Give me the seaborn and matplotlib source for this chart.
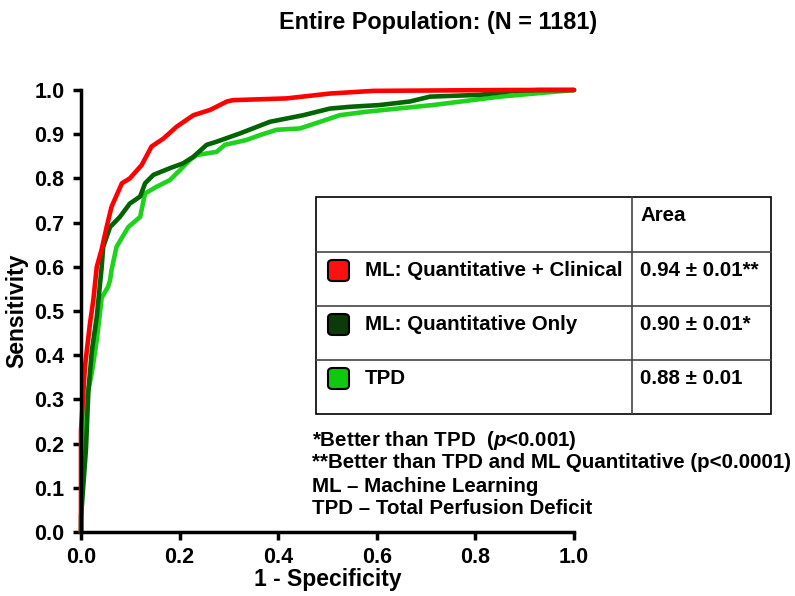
import numpy as np
import pandas as pd
import matplotlib
matplotlib.use("Agg")
import matplotlib.pyplot as plt
from matplotlib.patches import Rectangle, FancyBboxPatch
from matplotlib.lines import Line2D
import seaborn as sns

# ROC points (1 - specificity, sensitivity)
clin_fpr = [0.0, 0.0, 0.008, 0.018, 0.025, 0.032, 0.042, 0.052, 0.062, 0.083, 0.099, 0.123,
            0.143, 0.167, 0.194, 0.228, 0.262, 0.296, 0.308, 0.417, 0.505, 0.593, 0.863, 1.0]
clin_tpr = [0.0, 0.23, 0.374, 0.47, 0.525, 0.60, 0.64, 0.69, 0.736, 0.789, 0.80, 0.83,
            0.872, 0.89, 0.917, 0.943, 0.955, 0.974, 0.977, 0.981, 0.992, 0.998, 1.0, 1.0]

quant_fpr = [0.0, 0.0, 0.01, 0.015, 0.022, 0.032, 0.042, 0.045, 0.059, 0.079, 0.099, 0.12,
             0.13, 0.147, 0.18, 0.207, 0.228, 0.255, 0.275, 0.323, 0.383, 0.451, 0.505,
             0.546, 0.606, 0.667, 0.708, 0.809, 0.876, 0.93, 1.0]
quant_tpr = [0.0, 0.035, 0.186, 0.32, 0.41, 0.487, 0.60, 0.645, 0.69, 0.713, 0.743, 0.759,
             0.789, 0.808, 0.823, 0.834, 0.849, 0.876, 0.883, 0.902, 0.928, 0.943, 0.958,
             0.962, 0.966, 0.974, 0.985, 0.989, 0.998, 1.0, 1.0]

tpd_fpr = [0.0, 0.005, 0.011, 0.022, 0.032, 0.042, 0.055, 0.059, 0.062, 0.072, 0.096, 0.12,
           0.13, 0.153, 0.18, 0.201, 0.221, 0.235, 0.275, 0.292, 0.336, 0.363, 0.397, 0.444,
           0.485, 0.525, 0.58, 0.714, 0.85, 1.0]
tpd_tpr = [0.0, 0.186, 0.30, 0.36, 0.434, 0.53, 0.555, 0.57, 0.593, 0.645, 0.69, 0.713,
           0.766, 0.781, 0.796, 0.819, 0.842, 0.853, 0.86, 0.876, 0.887, 0.898, 0.91, 0.913,
           0.928, 0.943, 0.951, 0.966, 0.985, 1.0]

model_names = ["ML: Quantitative + Clinical", "ML: Quantitative Only", "TPD"]
auc_labels = ["0.94 \u00b1 0.01**", "0.90 \u00b1 0.01*", "0.88 \u00b1 0.01"]
line_colors = ["#ff0000", "#006400", "#1ed21e"]
swatch_colors = ["#ff1010", "#0b3a0b", "#10c810"]
notes = [r"*Better than TPD  ($\mathit{p}$<0.001)",
         "**Better than TPD and ML Quantitative (p<0.0001)",
         "ML \u2013 Machine Learning",
         "TPD \u2013 Total Perfusion Deficit"]

sns.set_style("ticks")
plt.rcParams["font.family"] = ["Liberation Sans", "DejaVu Sans"]
plt.rcParams["font.weight"] = "bold"
plt.rcParams["text.color"] = "black"
plt.rcParams["axes.labelcolor"] = "black"
plt.rcParams["xtick.color"] = "black"
plt.rcParams["ytick.color"] = "black"
plt.rcParams["axes.edgecolor"] = "black"
plt.rcParams["mathtext.fontset"] = "custom"
plt.rcParams["mathtext.it"] = "Liberation Sans:italic:bold"
plt.rcParams["mathtext.rm"] = "Liberation Sans:bold"

W, H = 795, 596
fig = plt.figure(figsize=(W / 100, H / 100), dpi=100)


def px(x, y):
    return x / W, 1 - y / H


ax = fig.add_axes([81 / W, 1 - 532 / H, 493 / W, 442 / H])

curves = [(clin_fpr, clin_tpr), (quant_fpr, quant_tpr), (tpd_fpr, tpd_tpr)]
# draw TPD first so the ML curves sit on top
for i in [2, 1, 0]:
    fpr, tpr = curves[i]
    sns.lineplot(x=fpr, y=tpr, ax=ax, color=line_colors[i], lw=3.3,
                 sort=False, estimator=None, clip_on=False)

ax.set_xlim(0, 1)
ax.set_ylim(0, 1)
ax.set_xticks(np.arange(0, 1.01, 0.2))
ax.set_yticks(np.arange(0, 1.01, 0.1))
ax.set_xticklabels([f"{v:.1f}" for v in np.arange(0, 1.01, 0.2)])
ax.set_yticklabels([f"{v:.1f}" for v in np.arange(0, 1.01, 0.1)])
ax.tick_params(width=2.5, length=6, labelsize=15.5)
ax.tick_params(axis="y", pad=6)
ax.tick_params(axis="x", pad=5)
for lab in ax.get_xticklabels() + ax.get_yticklabels():
    lab.set_fontweight("bold")
sns.despine(ax=ax)
for s in ["left", "bottom"]:
    ax.spines[s].set_linewidth(2.5)
ax.set_xlabel("1 - Specificity", fontsize=16.5, fontweight="bold", labelpad=0)
ax.set_ylabel("Sensitivity", fontsize=16.5, fontweight="bold", labelpad=4)

fig.text(*px(438, 22), "Entire Population: (N = 1181)", fontsize=16.8,
         fontweight="bold", ha="center", va="center")

# legend table
tl, tr, tt, tb = 316, 771, 197, 414
col_x = 632
row_y = [252, 306, 360]
fig.add_artist(Rectangle(px(tl, tb), (tr - tl) / W, (tb - tt) / H,
                         transform=fig.transFigure, fill=False, ec="black", lw=1.2))
fig.add_artist(Line2D([col_x / W] * 2, [1 - tt / H, 1 - tb / H], color="#444444", lw=1.2))
for ry in row_y:
    fig.add_artist(Line2D([tl / W, tr / W], [1 - ry / H] * 2, color="#444444", lw=1.2))

fig.text(*px(640, 216), "Area", fontsize=14.8, fontweight="bold", va="center")
text_y = [270, 324, 378]
for i in range(3):
    y = text_y[i]
    sx, sy = px(328, y + 11)
    fig.add_artist(FancyBboxPatch((sx, sy), 21 / W, 21 / H,
                                  boxstyle="round,pad=0,rounding_size=0.006",
                                  transform=fig.transFigure, fc=swatch_colors[i],
                                  ec="black", lw=1.5))
    fig.text(*px(365, y), model_names[i], fontsize=14.8, fontweight="bold", va="center")
    fig.text(*px(640, y), auc_labels[i], fontsize=14.8, fontweight="bold", va="center")

note_y = [440, 463, 486, 509]
for i in range(4):
    fig.text(*px(312, note_y[i]), notes[i], fontsize=14.8, fontweight="bold", va="center")

fig.savefig("out.png", dpi=100)
